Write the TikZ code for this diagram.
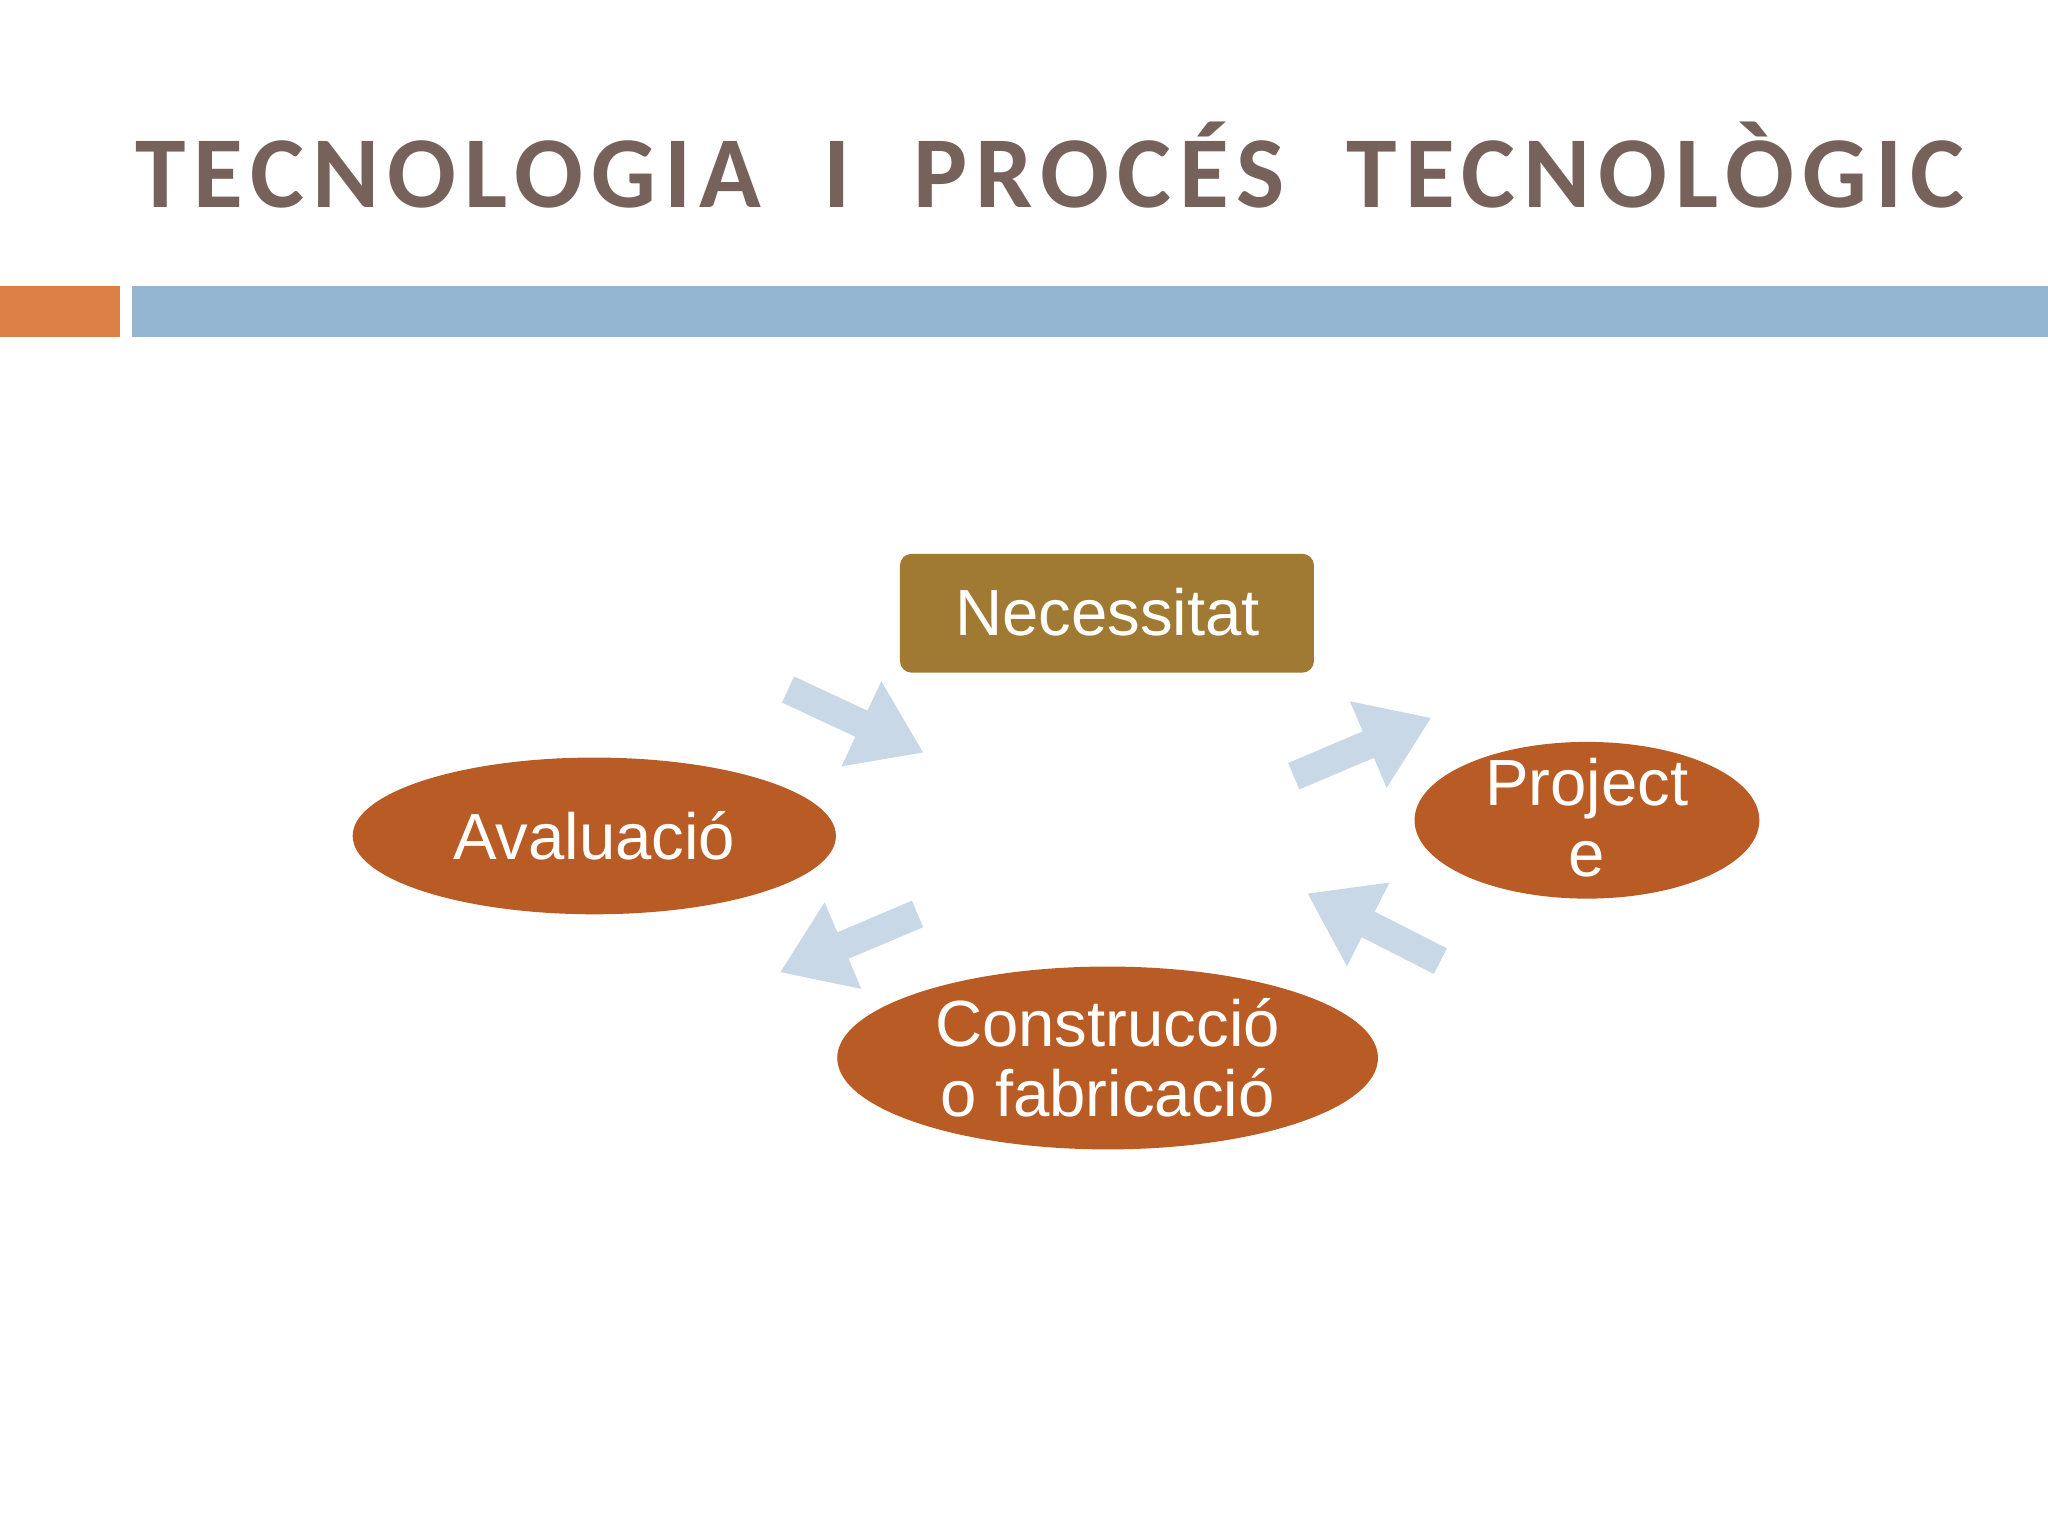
\documentclass[tikz,border=0pt]{standalone}
\usepackage{fontspec}
\setmainfont{Liberation Sans}
\newfontfamily\titlefont[LetterSpace=8]{Carlito}
\definecolor{titlec}{HTML}{76625A}
\definecolor{orangebar}{HTML}{DD8047}
\definecolor{bluebar}{HTML}{94B6D2}
\definecolor{necc}{HTML}{A07A33}
\definecolor{ellc}{HTML}{B95B24}
\definecolor{arrc}{HTML}{C9D8E6}
\tikzset{
  blockarrow/.pic={\fill[arrc] (-57,-11)--(5,-11)--(5,-36)--(57,0)--(5,36)--(5,11)--(-57,11)--cycle;},
  whitetext/.style={text=white,font=\fontsize{50}{54}\selectfont,align=center,inner sep=0}
}
\begin{document}
\begin{tikzpicture}[x=1pt,y=-1pt]
\useasboundingbox (0,0) rectangle (1568,1176);
\fill[white] (0,0) rectangle (1568,1176);
\node[titlec,font=\titlefont\bfseries\fontsize{78}{80}\selectfont] (title) at (804,126) {TECNOLOGIA\ \ I\ \ PROCÉS\ \ TECNOLÒGIC};
\fill[orangebar] (0,219) rectangle (92,258);
\fill[bluebar] (101,219) rectangle (1568,258);
\fill[necc,rounded corners=9] (689,424) rectangle (1006,515);
\node[whitetext] (nec) at (848,469) {Necessitat};
\fill[ellc] (1215,628) ellipse [x radius=132, y radius=60];
\node[whitetext] (proj) at (1215,626) {Project\\e};
\fill[ellc] (848,810) ellipse [x radius=207, y radius=70];
\node[whitetext] (cons) at (848,810) {Construcció\\o fabricació};
\fill[ellc] (455,640) ellipse [x radius=185, y radius=60];
\node[whitetext] (aval) at (455,640) {Avaluació};
\pic[rotate=-25] at (655,552) {blockarrow};
\pic[rotate=23] at (1043,572) {blockarrow};
\pic[rotate=153] at (1052,710) {blockarrow};
\pic[rotate=203] at (650,722) {blockarrow};
\end{tikzpicture}
\end{document}
